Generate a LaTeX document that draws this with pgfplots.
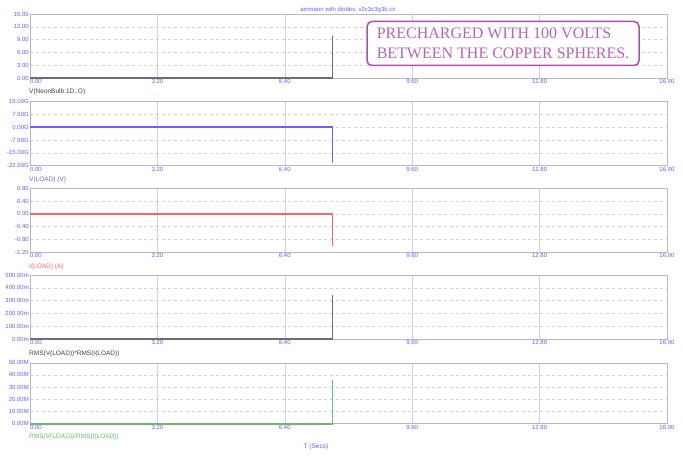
\documentclass[border=0pt]{standalone}
\usepackage{pgfplots}
\pgfplotsset{compat=1.18}
\usepackage{fontspec}
\setmainfont{Liberation Sans}
\newfontfamily\seriffont{Liberation Serif}
\definecolor{tickblue}{RGB}{95,95,255}
\definecolor{gridc}{RGB}{210,210,210}
\definecolor{framec}{RGB}{185,185,185}
\definecolor{boxpurple}{RGB}{170,80,170}
\definecolor{txtpurple}{RGB}{185,100,185}
\definecolor{lgrey}{RGB}{110,110,110}
\definecolor{lblue}{RGB}{100,100,255}
\definecolor{lred}{RGB}{255,100,100}
\definecolor{lgreen}{RGB}{110,185,110}
\pgfplotsset{panel/.style={scale only axis, width=637pt, height=64pt,
  xmin=0, xmax=16, xtick={0,3.2,6.4,9.6,12.8,16},
  xticklabels={\makebox[0pt][l]{0.00},3.20,6.40,9.60,12.80,16.00},
  ticklabel style={font=\fontsize{6}{7}\selectfont, text=tickblue},
  xticklabel style={inner sep=1pt},
  yticklabel style={inner sep=1pt},
  xmajorgrids, ymajorgrids,
  major x grid style={gridc, solid},
  major y grid style={gridc, dashed},
  axis line style={framec},
  tick style={draw=none},
  anchor=north west, clip=false}}
\begin{document}
\begin{tikzpicture}
\path[use as bounding box] (0pt,0pt) rectangle (683pt,461pt);
% panel 1
\begin{axis}[panel, at={(30pt,447pt)}, ymin=0, ymax=15,
  ytick={0,3,6,9,12,15}, yticklabels={0.00,3.00,6.00,9.00,12.00,15.00}]
\addplot[lgrey, line width=1.7pt] coordinates {(0,0) (7.6,0) (7.6,9.8)};
\end{axis}
% panel 2
\begin{axis}[panel, at={(30pt,359.3pt)}, ymin=-22.5, ymax=15,
  ytick={-22.5,-15,-7.5,0,7.5,15}, yticklabels={-22.50G,-15.00G,-7.50G,0.00G,7.50G,15.00G}]
\addplot[lblue, line width=1.7pt] coordinates {(0,0) (7.6,0) (7.6,-21)};
\end{axis}
% panel 3
\begin{axis}[panel, at={(30pt,272.7pt)}, ymin=-1.2, ymax=0.8,
  ytick={-1.2,-0.8,-0.4,0,0.4,0.8}, yticklabels={-1.20,-0.80,-0.40,0.00,0.40,0.80}]
\addplot[lred, line width=1.7pt] coordinates {(0,0) (7.6,0) (7.6,-1.0)};
\end{axis}
% panel 4
\begin{axis}[panel, at={(30pt,186pt)}, ymin=0, ymax=500,
  ytick={0,100,200,300,400,500}, yticklabels={0.00m,100.00m,200.00m,300.00m,400.00m,500.00m}]
\addplot[lgrey, line width=1.7pt] coordinates {(0,0) (7.6,0) (7.6,340)};
\end{axis}
% panel 5
\begin{axis}[panel, at={(30pt,98.3pt)}, height=61pt, ymin=0, ymax=50,
  ytick={0,10,20,30,40,50}, yticklabels={0.00M,10.00M,20.00M,30.00M,40.00M,50.00M}]
\addplot[lgreen, line width=1.7pt] coordinates {(0,0) (7.6,0) (7.6,35.7)};
\end{axis}
% labels
\node[anchor=center, font=\fontsize{6}{7}\selectfont, text=tickblue] at (348pt,451pt) {ammann with diodes, v2c3c3g3b.cir};
\node[anchor=west, inner sep=0pt, font=\fontsize{6.5}{7}\selectfont, text=black!75] at (29pt,369.3pt) {V(NeonBulb.1D,.O)};
\node[anchor=west, inner sep=0pt, font=\fontsize{6.5}{7}\selectfont, text=lblue] at (29pt,281pt) {V(LOAD) (V)};
\node[anchor=west, inner sep=0pt, font=\fontsize{6.5}{7}\selectfont, text=lred] at (29pt,194.3pt) {I(LOAD) (A)};
\node[anchor=west, inner sep=0pt, font=\fontsize{6.5}{7}\selectfont, text=black!75] at (29pt,107pt) {RMS(V(LOAD))*RMS(I(LOAD))};
\node[anchor=west, inner sep=0pt, font=\fontsize{6.5}{7}\selectfont, text=lgreen] at (29pt,24pt) {RMS(V(LOAD))/RMS(I(LOAD))};
\node[anchor=center, inner sep=0pt, font=\fontsize{6.5}{7}\selectfont, text=tickblue] at (316pt,14.3pt) {T (Secs)};
\node[draw=boxpurple, line width=1.5pt, rounded corners=5pt, fill=white, text=txtpurple,
  font=\seriffont\fontsize{16}{20}\selectfont, align=left, inner sep=0pt,
  minimum width=272pt, minimum height=44pt] at (503pt,417.5pt)
  {PRECHARGED WITH 100 VOLTS\\BETWEEN THE COPPER SPHERES.};
\end{tikzpicture}
\end{document}
